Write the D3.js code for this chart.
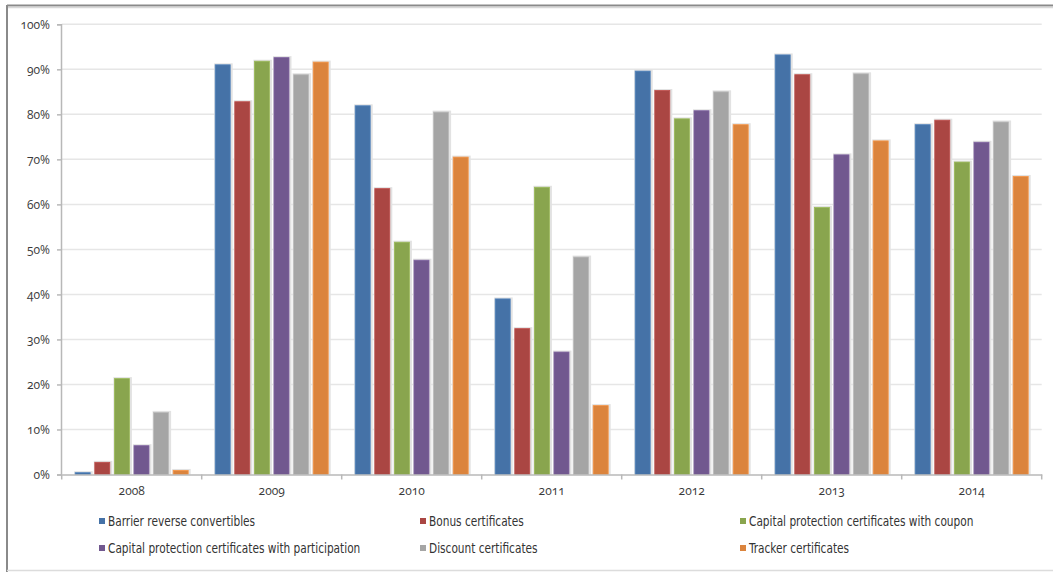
<!DOCTYPE html>
<html>
<head>
<meta charset="utf-8">
<script src="https://cdn.jsdelivr.net/npm/d3@7"></script>
<style>
  html, body { margin: 0; padding: 0; background: #fff; }
  svg { display: block; }
  .tick-label { font-family: "Open Sans", "Noto Sans", sans-serif; font-size: 12px; fill: #3a3a3a; font-variant-numeric: oldstyle-nums; font-feature-settings: "onum" 1; }
  .legend-label { font-family: "Liberation Sans Narrow", "DejaVu Sans Condensed", sans-serif; font-size: 14px; fill: #333; }
</style>
</head>
<body>
<script>
// ---- data ----
const years = ["2008", "2009", "2010", "2011", "2012", "2013", "2014"];
const seriesNames = [
  "Barrier reverse convertibles",
  "Bonus certificates",
  "Capital protection certificates with coupon",
  "Capital protection certificates with participation",
  "Discount certificates",
  "Tracker certificates"
];
const barrierReverse  = [0.4, 91.0, 81.9, 39.0, 89.6, 93.2, 77.7];
const bonus           = [2.7, 82.8, 63.5, 32.4, 85.3, 88.8, 78.7];
const capCoupon       = [21.3, 91.8, 51.6, 63.8, 79.0, 59.3, 69.4];
const capParticipation= [6.4, 92.6, 47.6, 27.2, 80.8, 71.0, 73.8];
const discount        = [13.8, 88.8, 80.5, 48.3, 85.0, 89.0, 78.3];
const tracker         = [0.9, 91.6, 70.5, 15.3, 77.7, 74.1, 66.2];
const yTicks = [0, 10, 20, 30, 40, 50, 60, 70, 80, 90, 100];
const colors = ["#4572A7", "#AA4643", "#89A54E", "#71588F", "#A5A5A5", "#DB843D"];

const seriesValues = [barrierReverse, bonus, capCoupon, capParticipation, discount, tracker];

// ---- layout ----
const W = 1053, H = 572;
const svg = d3.select("body").append("svg").attr("width", W).attr("height", H);

// frame
svg.append("line").attr("x1", 7).attr("x2", W).attr("y1", 5.5).attr("y2", 5.5)
  .attr("stroke", "#8a8a8a").attr("stroke-width", 2);
svg.append("line").attr("x1", 7).attr("x2", W).attr("y1", 7.5).attr("y2", 7.5)
  .attr("stroke", "#d8d8d8").attr("stroke-width", 1.5);
svg.append("line").attr("x1", 7).attr("x2", 7).attr("y1", 5).attr("y2", H)
  .attr("stroke", "#8a8a8a").attr("stroke-width", 2);
svg.append("line").attr("x1", 7).attr("x2", W).attr("y1", 570.5).attr("y2", 570.5)
  .attr("stroke", "#dcdcdc").attr("stroke-width", 1.5);

const x0 = d3.scaleBand().domain(years).range([61.7, 1041.7]).padding(0);
const x1 = d3.scaleBand().domain(d3.range(seriesNames.length))
  .range([0, x0.bandwidth()]).paddingInner(0.235).paddingOuter(0.689);
const y = d3.scaleLinear().domain([0, 100]).range([474.5, 24.3]);

// gridlines
svg.append("g").selectAll("line").data(yTicks.filter(d => d > 0)).join("line")
  .attr("x1", 61.7).attr("x2", 1041.7)
  .attr("y1", d => y(d)).attr("y2", d => y(d))
  .attr("stroke", "#e6e6e6").attr("stroke-width", 1.5);

// y axis
const yAxis = svg.append("g").attr("transform", "translate(61,0)")
  .call(d3.axisLeft(y).tickValues(yTicks).tickFormat(d => d + "%").tickSize(4).tickPadding(7));
yAxis.select(".domain").attr("stroke", "#b8b8b8").attr("stroke-width", 1.5);
yAxis.selectAll(".tick line").attr("stroke", "#b8b8b8").attr("stroke-width", 1.5);
yAxis.selectAll(".tick text").attr("class", "tick-label").attr("font-family", null).attr("font-size", null).attr("fill", null);

// bars
const groups = svg.append("g").selectAll("g").data(years).join("g")
  .attr("transform", d => `translate(${x0(d)},0)`);

const barData = (yr, i) => seriesValues.map((vals, s) => ({ s, v: vals[i] }));

groups.each(function (yr, i) {
  const g = d3.select(this);
  const data = barData(yr, i);
  // shadow
  g.selectAll("rect.shadow").data(data).join("rect").attr("class", "shadow")
    .attr("x", d => x1(d.s) - 1)
    .attr("y", d => y(d.v) - 1.5)
    .attr("width", x1.bandwidth() + 3.5)
    .attr("height", d => y(0) - y(d.v) + 1.5)
    .attr("fill", "#e2e2e2");
  g.selectAll("rect.bar").data(data).join("rect").attr("class", "bar")
    .attr("x", d => x1(d.s))
    .attr("y", d => y(d.v))
    .attr("width", x1.bandwidth())
    .attr("height", d => y(0) - y(d.v))
    .attr("fill", d => colors[d.s])
    .attr("stroke", d => d3.color(colors[d.s]).brighter(0.35))
    .attr("stroke-width", 0.8);
});

// x axis
const xAxis = svg.append("g").attr("transform", "translate(0,474.5)")
  .call(d3.axisBottom(x0).tickSize(0).tickPadding(12));
xAxis.select(".domain").attr("stroke", "#b8b8b8").attr("stroke-width", 1.5);
xAxis.selectAll(".tick text").attr("class", "tick-label").attr("font-family", null).attr("font-size", null).attr("fill", null);
// boundary ticks
const bounds = years.map(d => x0(d)).concat([x0(years[years.length - 1]) + x0.bandwidth()]);
xAxis.append("g").selectAll("line").data(bounds).join("line")
  .attr("x1", d => d).attr("x2", d => d).attr("y1", 0).attr("y2", 5)
  .attr("stroke", "#b8b8b8").attr("stroke-width", 1.5);

// legend
const legCols = [99, 420, 740];
const legRows = [521, 548];
const legend = svg.append("g").selectAll("g").data(seriesNames).join("g")
  .attr("transform", (d, i) => `translate(${legCols[i % 3]},${legRows[Math.floor(i / 3)]})`);
legend.append("rect").attr("x", 0).attr("y", -3).attr("width", 6).attr("height", 6)
  .attr("fill", (d, i) => colors[i]);
legend.append("text").attr("class", "legend-label")
  .attr("transform", "translate(9,0) scale(0.84,1)")
  .attr("dy", "0.35em").text(d => d);
</script>
</body>
</html>
